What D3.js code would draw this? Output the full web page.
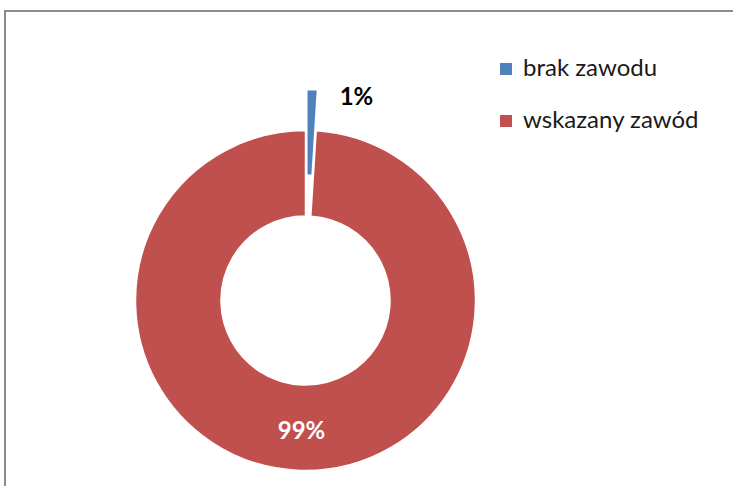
<!DOCTYPE html>
<html><head><meta charset="utf-8">
<script src="https://cdn.jsdelivr.net/npm/d3@7"></script>
<style>html,body{margin:0;padding:0;background:#fff;}svg{display:block;}</style>
</head><body>
<script>
const categories = ["brak zawodu", "wskazany zawód"];
const values = [1, 99];
const labels = ["1%", "99%"];
const colors = ["#4F81BD", "#C0504D"];

const W = 733, H = 486;
const svg = d3.select("body").append("svg").attr("width", W).attr("height", H);
const font = "Lato, 'Open Sans', sans-serif";

// chart border
svg.append("rect").attr("x", 5).attr("y", 11).attr("width", W + 10).attr("height", H + 10)
  .attr("fill", "#fff").attr("stroke", "#8c8c8c").attr("stroke-width", 2);

const cx = 305.5, cy = 300.5, R = 170, r = 84.5, explode = 41;
const pie = d3.pie().sort(null).value(d => d)(values);
const arc = d3.arc().innerRadius(r).outerRadius(R);
const g = svg.append("g").attr("transform", `translate(${cx},${cy})`);

pie.forEach((p, i) => {
  const mid = (p.startAngle + p.endAngle) / 2;
  const off = i === 0 ? explode : 0;
  const dx = Math.sin(mid) * off, dy = -Math.cos(mid) * off;
  g.append("path").attr("d", arc(p)).attr("fill", colors[i])
    .attr("stroke", "#fff").attr("stroke-width", 1.5)
    .attr("transform", `translate(${dx},${dy})`);
});

// data labels
g.append("text").attr("x", 51).attr("y", -205).text(labels[0])
  .attr("text-anchor", "middle").attr("dominant-baseline", "central")
  .attr("font-family", font).attr("font-weight", "bold").attr("font-size", 24).attr("fill", "#000");
const c1 = d3.arc().innerRadius((R + r) / 2).outerRadius((R + r) / 2).centroid(pie[1]);
g.append("text").attr("x", c1[0]).attr("y", c1[1] + 2).text(labels[1])
  .attr("text-anchor", "middle").attr("dominant-baseline", "central")
  .attr("font-family", font).attr("font-weight", "bold").attr("font-size", 24).attr("fill", "#fff");

// legend
const leg = svg.append("g").attr("transform", "translate(500,63)");
categories.forEach((c, i) => {
  const row = leg.append("g").attr("transform", `translate(0,${i * 52})`);
  row.append("rect").attr("width", 12).attr("height", 12).attr("fill", colors[i]);
  row.append("text").attr("x", 23).attr("y", 13).text(c)
    .attr("font-family", font).attr("font-size", 24).attr("fill", "#1a1a1a");
});
</script>
</body></html>
